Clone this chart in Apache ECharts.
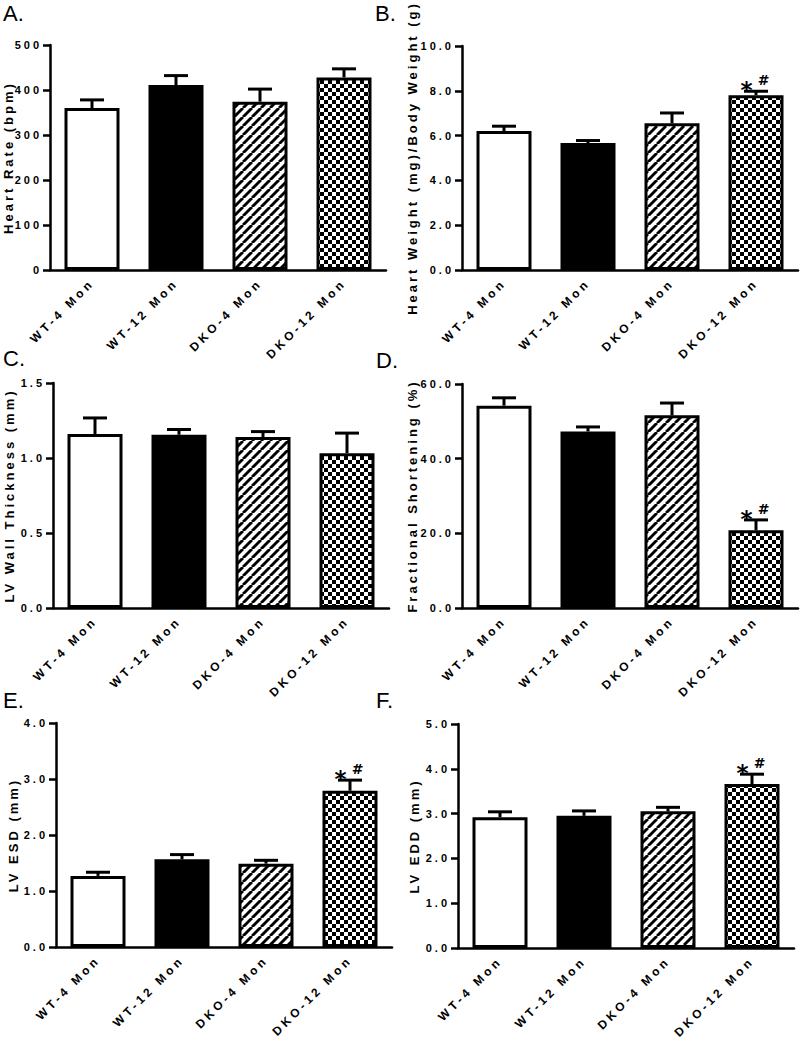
<!DOCTYPE html>
<html><head><meta charset="utf-8">
<script src="https://cdn.jsdelivr.net/npm/echarts@6/dist/echarts.min.js"></script>
<style>
html,body{margin:0;padding:0;background:#fff;}
#chart{width:800px;height:1040px;}
#chart text{letter-spacing:3px;}
#chart text[style*=" 12px"]{letter-spacing:3.5px;}
#chart text[style*=" 22px"]{letter-spacing:0px;}
</style></head><body><div id="chart"></div>
<script>
// ---- data ----
const categories = ['WT-4 Mon', 'WT-12 Mon', 'DKO-4 Mon', 'DKO-12 Mon'];

const heartRate = [360, 411, 374, 428];
const heartRateErr = [18, 21, 28, 19];

const heartWeight = [6.20, 5.67, 6.55, 7.80];
const heartWeightErr = [0.22, 0.11, 0.46, 0.18];
const heartWeightSig = ['', '', '', '*#'];

const wallThickness = [1.16, 1.155, 1.14, 1.032];
const wallThicknessErr = [0.107, 0.035, 0.036, 0.134];

const fracShortening = [54.2, 47.3, 51.6, 20.8];
const fracShorteningErr = [2.1, 1.2, 3.3, 2.8];
const fracShorteningSig = ['', '', '', '*#'];

const lvEsd = [1.27, 1.567, 1.488, 2.79];
const lvEsdErr = [0.065, 0.083, 0.06, 0.19];
const lvEsdSig = ['', '', '', '*#'];

const lvEdd = [2.92, 2.95, 3.05, 3.66];
const lvEddErr = [0.12, 0.11, 0.09, 0.22];
const lvEddSig = ['', '', '', '*#'];

const panelLetters = ['A.', 'B.', 'C.', 'D.', 'E.', 'F.'];
const yTitles = ['Heart Rate (bpm)', 'Heart Weight (mg)/Body Weight (g)', 'LV Wall Thickness (mm)',
                 'Fractional Shortening (%)', 'LV ESD (mm)', 'LV EDD (mm)'];
const yMax = [500, 10, 1.5, 60, 4, 5];
const yInterval = [100, 2, 0.5, 20, 1, 1];
const yDecimals = [0, 1, 1, 1, 1, 1];

// ---- layout (positions / styles) ----
const panelValues = [heartRate, heartWeight, wallThickness, fracShortening, lvEsd, lvEdd];
const panelErrors = [heartRateErr, heartWeightErr, wallThicknessErr, fracShorteningErr, lvEsdErr, lvEddErr];
const panelSig = [null, heartWeightSig, null, fracShorteningSig, lvEsdSig, lvEddSig];
const grids = [
  {left: 50, top: 45, width: 336, height: 225},
  {left: 462, top: 46, width: 336, height: 224},
  {left: 53, top: 383, width: 336, height: 225},
  {left: 462, top: 384, width: 336, height: 224},
  {left: 56, top: 723, width: 336, height: 224},
  {left: 458, top: 724, width: 336, height: 224}
];
const nameGaps = [35, 43, 37, 43, 36, 37];
const letterPos = [[3, 2], [375, 2], [3, 347], [376, 349], [3, 689], [376, 689]];

function makeStripe() {
  const s = 9, c = document.createElement('canvas');
  c.width = s; c.height = s;
  const g = c.getContext('2d');
  g.fillStyle = '#fff'; g.fillRect(0, 0, s, s);
  g.strokeStyle = '#000'; g.lineWidth = 2.9;
  for (let k = -1; k <= 1; k++) {
    g.beginPath(); g.moveTo(k * s, s); g.lineTo(k * s + s, 0); g.stroke();
  }
  return c;
}
function makeChecker() {
  const s = 8, c = document.createElement('canvas');
  c.width = s; c.height = s;
  const g = c.getContext('2d');
  g.fillStyle = '#fff'; g.fillRect(0, 0, s, s);
  g.fillStyle = '#000';
  g.fillRect(0, 0, 4, 4); g.fillRect(4, 4, 4, 4);
  return c;
}
const stripe = makeStripe();
const checker = makeChecker();
const fills = [
  '#ffffff',
  '#000000',
  {image: stripe, repeat: 'repeat', imageWidth: 9, imageHeight: 9},
  {image: checker, repeat: 'repeat', imageWidth: 8, imageHeight: 8}
];

const FONT = 'Liberation Sans';

function errRender(sigArr) {
  return function (params, api) {
    const i = params.dataIndex;
    const cat = api.value(0), m = api.value(1), e = api.value(2);
    const p0 = api.coord([cat, m]);
    const p1 = api.coord([cat, m + e]);
    const x = p0[0];
    const children = [
      {type: 'line', shape: {x1: x, y1: p0[1], x2: x, y2: p1[1]}, style: {stroke: '#000', lineWidth: 3}},
      {type: 'line', shape: {x1: x - 12, y1: p1[1], x2: x + 12, y2: p1[1]}, style: {stroke: '#000', lineWidth: 3}}
    ];
    const s = sigArr ? sigArr[i] : '';
    if (s && s.indexOf('*') >= 0) {
      children.push({type: 'text', x: x - 8, y: p1[1] - 1,
        style: {text: '*', font: 'bold 23px "DejaVu Sans"', fill: '#000', align: 'center', verticalAlign: 'middle'}});
    }
    if (s && s.indexOf('#') >= 0) {
      children.push({type: 'text', x: x + 9, y: p1[1] - 11,
        style: {text: '#', font: 'bold 14px "DejaVu Sans"', fill: '#000', align: 'center', verticalAlign: 'middle'}});
    }
    return {type: 'group', children: children};
  };
}

const option = {
  backgroundColor: '#fff',
  animation: false,
  grid: grids.map(g => Object.assign({outerBoundsMode: 'none', containLabel: false}, g)),
  xAxis: grids.map((g, k) => ({
    type: 'category', gridIndex: k, data: categories,
    axisLine: {lineStyle: {color: '#000', width: 2.5}},
    axisTick: {alignWithLabel: true, length: 6, lineStyle: {color: '#000', width: 2.5}},
    axisLabel: {interval: 0, rotate: 45, margin: 11, color: '#000', fontFamily: FONT, fontWeight: 'bold', fontSize: 12},
    splitLine: {show: false}
  })),
  yAxis: grids.map((g, k) => ({
    type: 'value', gridIndex: k, min: 0, max: yMax[k], interval: yInterval[k],
    name: yTitles[k], nameLocation: 'middle', nameRotate: 90, nameGap: nameGaps[k],
    nameTextStyle: {color: '#000', fontFamily: FONT, fontWeight: 'bold', fontSize: 13},
    axisLine: {show: true, lineStyle: {color: '#000', width: 2.5}},
    axisTick: {show: true, length: 7, lineStyle: {color: '#000', width: 2.5}},
    axisLabel: {margin: 8, color: '#000', fontFamily: FONT, fontWeight: 'bold', fontSize: 11,
      formatter: v => v.toFixed(yDecimals[k])},
    splitLine: {show: false}
  })),
  series: [],
  graphic: panelLetters.map((t, k) => ({
    type: 'text', left: letterPos[k][0], top: letterPos[k][1],
    style: {text: t, font: '22px "Liberation Sans"', fill: '#000'}
  }))
};

panelValues.forEach((vals, k) => {
  option.series.push({
    type: 'bar', xAxisIndex: k, yAxisIndex: k, barWidth: 55,
    data: vals.map((v, i) => ({value: v, itemStyle: {color: fills[i], borderColor: '#000', borderWidth: 3}})),
    z: 2
  });
  option.series.push({
    type: 'custom', xAxisIndex: k, yAxisIndex: k, z: 3,
    renderItem: errRender(panelSig[k]),
    encode: {x: 0, y: 1},
    data: vals.map((v, i) => [i, v, panelErrors[k][i]])
  });
});

const chart = echarts.init(document.getElementById('chart'), null, {renderer: 'svg'});
chart.setOption(option);
</script></body></html>
